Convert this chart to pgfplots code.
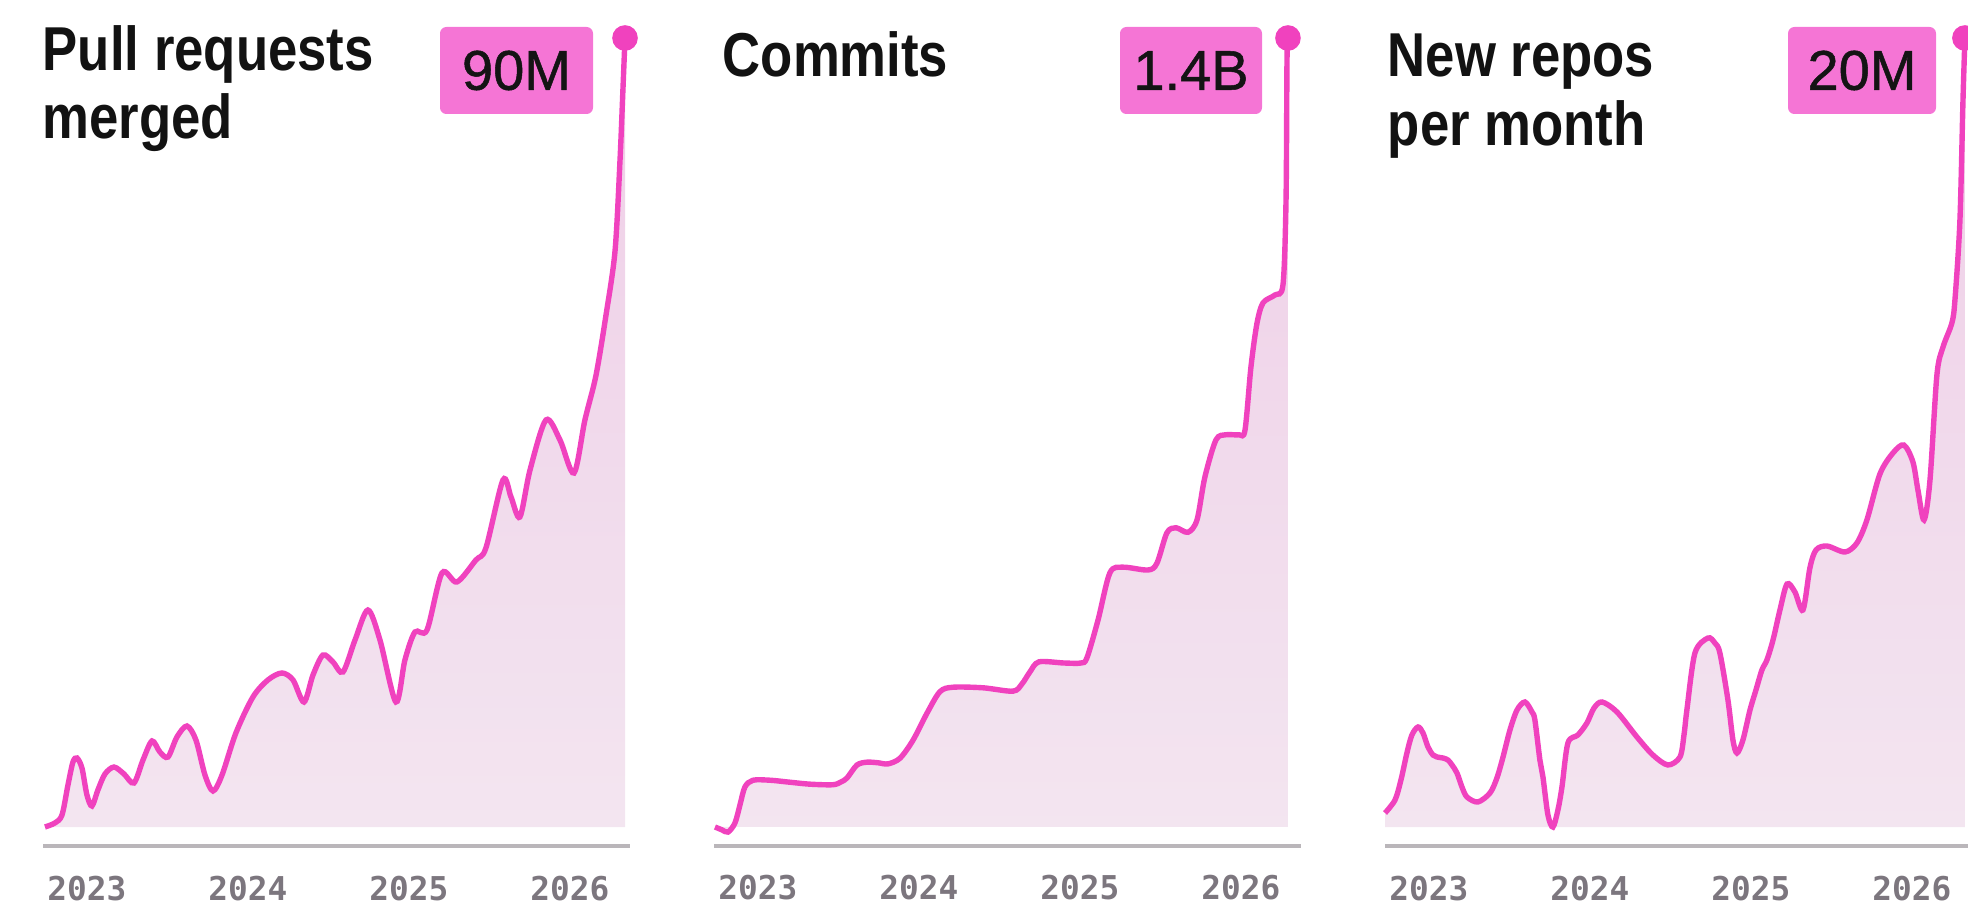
\documentclass[border=0pt]{standalone}
\usepackage{pgfplots}
\pgfplotsset{compat=1.18}
\usepackage{pgfplotstable}
\usepackage{fontspec}
\setmainfont{Liberation Sans}
\newfontfamily\titlefont[FakeStretch=0.85]{Liberation Sans}
\newfontfamily\badgefont[FakeBold=0.9]{Liberation Sans}
\newfontfamily\tickfont{DejaVu Sans Mono}
\definecolor{linepink}{RGB}{240,66,190}
\definecolor{badgepink}{RGB}{245,117,213}
\definecolor{filltop}{RGB}{239,206,231}
\definecolor{fillbot}{RGB}{243,229,240}
\definecolor{tickgray}{RGB}{124,118,126}
\definecolor{basegray}{RGB}{186,182,186}

\pgfplotstableread{
x y
2022.739 0.00
2022.801 0.46
2022.845 1.37
2022.882 4.79
2022.913 7.41
2022.938 7.87
2022.969 6.73
2023.000 3.65
2023.031 2.40
2023.068 4.22
2023.112 6.05
2023.168 6.84
2023.230 6.05
2023.292 5.02
2023.348 7.64
2023.404 9.81
2023.453 8.56
2023.503 7.98
2023.559 10.27
2023.621 11.52
2023.677 9.92
2023.733 5.93
2023.783 4.11
2023.839 5.93
2023.925 10.72
2024.031 14.83
2024.124 16.77
2024.211 17.57
2024.280 16.77
2024.348 14.26
2024.404 17.34
2024.466 19.62
2024.528 18.82
2024.590 17.68
2024.665 21.33
2024.745 24.75
2024.820 21.33
2024.919 14.26
2024.975 19.05
2025.037 22.24
2025.112 22.47
2025.205 28.97
2025.298 27.95
2025.416 30.46
2025.478 31.83
2025.584 39.58
2025.634 37.64
2025.689 35.36
2025.752 40.72
2025.851 46.43
2025.938 44.15
2026.025 40.38
2026.093 46.43
2026.161 51.45
2026.224 58.40
2026.280 65.70
2026.311 76.08
2026.329 84.07
2026.342 90.00
}\prdata

\pgfplotstableread{
x y
2022.733 0.000
2022.776 -0.005
2022.814 -0.009
2022.857 0.007
2022.888 0.039
2022.919 0.071
2022.969 0.083
2023.075 0.083
2023.180 0.080
2023.323 0.076
2023.466 0.075
2023.516 0.080
2023.553 0.087
2023.615 0.110
2023.677 0.115
2023.745 0.114
2023.807 0.112
2023.882 0.122
2023.963 0.154
2024.050 0.202
2024.130 0.240
2024.211 0.248
2024.398 0.247
2024.584 0.241
2024.640 0.254
2024.689 0.275
2024.745 0.293
2024.901 0.291
2025.006 0.291
2025.043 0.300
2025.112 0.367
2025.186 0.451
2025.267 0.461
2025.422 0.456
2025.478 0.468
2025.540 0.522
2025.596 0.531
2025.671 0.523
2025.727 0.545
2025.776 0.621
2025.845 0.687
2025.907 0.696
2025.988 0.696
2026.025 0.704
2026.062 0.816
2026.099 0.893
2026.137 0.930
2026.211 0.944
2026.261 0.962
2026.280 1.113
2026.286 1.361
2026.292 1.400
}\commitdata

\pgfplotstableread{
x y
2022.727 0.355
2022.789 0.684
2022.826 1.191
2022.863 1.876
2022.894 2.332
2022.932 2.535
2022.963 2.383
2022.994 2.028
2023.025 1.825
2023.050 1.774
2023.087 1.749
2023.118 1.698
2023.143 1.572
2023.174 1.369
2023.205 1.014
2023.236 0.760
2023.304 0.634
2023.379 0.862
2023.422 1.242
2023.460 1.774
2023.503 2.459
2023.547 2.966
2023.596 3.169
2023.640 2.915
2023.658 2.712
2023.689 1.698
2023.708 1.267
2023.739 0.304
2023.770 0.000
2023.801 0.431
2023.826 1.014
2023.863 2.129
2023.925 2.332
2023.981 2.636
2024.025 3.016
2024.075 3.169
2024.168 2.915
2024.292 2.281
2024.391 1.825
2024.484 1.572
2024.559 1.774
2024.584 2.332
2024.602 2.966
2024.652 4.411
2024.733 4.791
2024.776 4.664
2024.807 4.411
2024.857 3.219
2024.888 2.205
2024.913 1.876
2024.950 2.205
2024.994 2.966
2025.031 3.473
2025.068 3.980
2025.099 4.233
2025.137 4.740
2025.180 5.501
2025.224 6.160
2025.273 5.957
2025.323 5.501
2025.366 6.565
2025.404 7.022
2025.472 7.123
2025.584 6.971
2025.658 7.199
2025.720 7.782
2025.801 8.948
2025.882 9.481
2025.950 9.683
2026.006 9.252
2026.037 8.543
2026.075 7.782
2026.112 8.796
2026.155 11.458
2026.193 12.168
2026.248 12.776
2026.267 13.359
2026.298 15.387
2026.317 18.429
2026.329 20.000
}\repodata

\pgfplotsset{panel/.style={
  scale only axis, width=145.705bp, height=197.25bp,
  xmin=2022.74, xmax=2026.36, ymin=0,
  axis x line=bottom, axis y line=none,
  x axis line style={draw=none,-},
  major tick length=0pt,
  xtick={2023,2024,2025,2026},
  xticklabels={2023,2024,2025,2026},
  xticklabel style={anchor=base, yshift=-18.25bp,
    font=\tickfont\bfseries\fontsize{8.2bp}{8.2bp}\selectfont, text=tickgray},
  clip=false, anchor=south west,
}}

\begin{document}
\begin{tikzpicture}
% Panel 1
\begin{axis}[panel, at={(11.275bp,19.75bp)}, ymax=90]
\addplot[draw=none, smooth, top color=filltop, bottom color=fillbot] table {\prdata} \closedcycle;
\draw[basegray, line width=1.2bp] ([xshift=-0.5bp,yshift=-4.75bp]rel axis cs:0,0) -- ([xshift=0.5bp,yshift=-4.75bp]rel axis cs:1,0);
\addplot[linepink, line width=1.35bp, smooth] table {\prdata};
\addplot[only marks, mark=*, mark size=3bp, mark options={draw=linepink, fill=linepink}] coordinates {(2026.342,90)};
\end{axis}
% Panel 2
\begin{axis}[panel, at={(179.025bp,19.75bp)}, ymax=1.4]
\addplot[draw=none, smooth, top color=filltop, bottom color=fillbot] table {\commitdata} \closedcycle;
\draw[basegray, line width=1.2bp] ([xshift=-0.5bp,yshift=-4.75bp]rel axis cs:0,0) -- ([xshift=0.5bp,yshift=-4.75bp]rel axis cs:1,0);
\addplot[linepink, line width=1.35bp, smooth] table {\commitdata};
\addplot[only marks, mark=*, mark size=3bp, mark options={draw=linepink, fill=linepink}] coordinates {(2026.292,1.4)};
\end{axis}
% Panel 3
\begin{axis}[panel, at={(346.775bp,19.75bp)}, ymax=20]
\addplot[draw=none, smooth, top color=filltop, bottom color=fillbot] table {\repodata} \closedcycle;
\draw[basegray, line width=1.2bp] ([xshift=-0.5bp,yshift=-4.75bp]rel axis cs:0,0) -- ([xshift=0.5bp,yshift=-4.75bp]rel axis cs:1,0);
\addplot[linepink, line width=1.35bp, smooth] table {\repodata};
\addplot[only marks, mark=*, mark size=3bp, mark options={draw=linepink, fill=linepink}] coordinates {(2026.329,20)};
\end{axis}

% Titles
\begin{scope}[every node/.style={anchor=base west, inner sep=0pt, text=black!93,
  font=\titlefont\bfseries\fontsize{15.5bp}{15.5bp}\selectfont}]
\node at (10.5bp,208.75bp) {Pull requests};
\node at (10.5bp,191.75bp) {merged};
\node at (180.5bp,207.25bp) {Commits};
\node at (346.75bp,207.25bp) {New repos};
\node at (346.75bp,190bp) {per month};
\end{scope}

% Badges
\begin{scope}[every node/.style={fill=badgepink, rounded corners=1.6bp, inner sep=0pt,
  minimum height=21.75bp, text=black!92, font=\badgefont\fontsize{14bp}{14bp}\selectfont}]
\node[minimum width=38.25bp] at (129.125bp,208.875bp) {90M};
\node[minimum width=35.5bp] at (297.75bp,208.875bp) {1.4B};
\node[minimum width=37bp] at (465.5bp,208.875bp) {20M};
\end{scope}

\pgfresetboundingbox
\path[use as bounding box] (0,0) rectangle (492bp,226.5bp);
\end{tikzpicture}
\end{document}
